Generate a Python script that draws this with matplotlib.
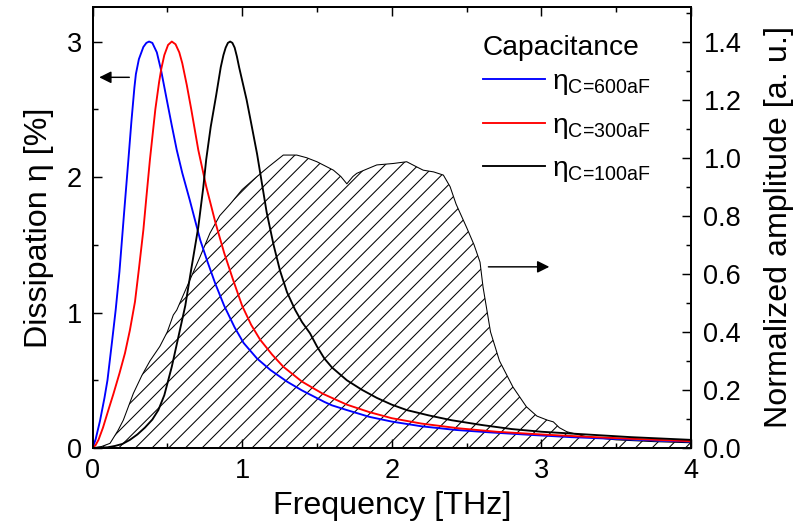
import matplotlib
matplotlib.use("Agg")
import matplotlib.pyplot as plt
from matplotlib.ticker import MultipleLocator, FormatStrFormatter

# dissipation curves (left axis)
freq_600 = [0.00, 0.02, 0.05, 0.08, 0.10, 0.13, 0.155, 0.18, 0.21, 0.24, 0.26, 0.28, 0.29, 0.31, 0.34,
            0.36, 0.378, 0.40, 0.43, 0.458, 0.50, 0.53, 0.563, 0.60, 0.65, 0.72, 0.77, 0.82, 0.88, 0.95,
            1.01, 1.10, 1.19, 1.30, 1.40, 1.55, 1.60, 1.70, 1.85, 2.00, 2.20, 2.43, 2.66, 2.94, 3.20,
            3.50, 3.75, 4.00]
eta_600 = [0.00, 0.06, 0.20, 0.37, 0.50, 0.78, 1.02, 1.30, 1.72, 2.13, 2.41, 2.66, 2.76, 2.87, 2.96,
           2.99, 3.00, 2.99, 2.92, 2.79, 2.55, 2.38, 2.20, 2.03, 1.83, 1.535, 1.37, 1.215, 1.05, 0.89,
           0.775, 0.66, 0.575, 0.49, 0.425, 0.34, 0.315, 0.28, 0.23, 0.195, 0.16, 0.133, 0.115, 0.096, 0.08,
           0.067, 0.056, 0.047]

freq_300 = [0.00, 0.02, 0.04, 0.07, 0.106, 0.14, 0.18, 0.217, 0.25, 0.284, 0.31, 0.34, 0.36, 0.384, 0.42,
            0.445, 0.46, 0.48, 0.505, 0.53, 0.555, 0.58, 0.60, 0.63, 0.66, 0.707, 0.76, 0.82, 0.88, 0.94,
            1.00, 1.06, 1.12, 1.20, 1.275, 1.40, 1.54, 1.70, 1.85, 2.00, 2.20, 2.45, 2.70, 3.00, 3.30,
            3.60, 4.00]
eta_300 = [0.00, 0.02, 0.06, 0.15, 0.28, 0.40, 0.55, 0.70, 0.87, 1.08, 1.32, 1.61, 1.85, 2.13, 2.50,
           2.70, 2.80, 2.90, 2.975, 3.00, 2.98, 2.92, 2.84, 2.68, 2.50, 2.20, 1.93, 1.67, 1.44, 1.24,
           1.05, 0.91, 0.80, 0.69, 0.60, 0.49, 0.40, 0.32, 0.265, 0.22, 0.18, 0.145, 0.12, 0.10, 0.083,
           0.068, 0.05]

freq_100 = [0.00, 0.10, 0.15, 0.20, 0.25, 0.30, 0.35, 0.40, 0.44, 0.48, 0.53, 0.57, 0.62, 0.66, 0.707,
            0.74, 0.76, 0.79, 0.826, 0.857, 0.875, 0.89, 0.905, 0.92, 0.935, 0.95, 0.965, 0.98, 1.03, 1.06,
            1.10, 1.164, 1.21, 1.253, 1.30, 1.354, 1.40, 1.454, 1.50, 1.55, 1.60, 1.70, 1.80, 1.90, 2.00,
            2.10, 2.25, 2.40, 2.60, 2.80, 3.00, 3.30, 3.60, 4.00]
eta_100 = [0.00, 0.005, 0.015, 0.03, 0.06, 0.10, 0.15, 0.21, 0.28, 0.39, 0.60, 0.80, 1.05, 1.32, 1.63,
           1.92, 2.13, 2.37, 2.60, 2.81, 2.90, 2.955, 2.99, 3.00, 2.99, 2.955, 2.89, 2.81, 2.57, 2.40,
           2.17, 1.74, 1.50, 1.31, 1.15, 1.02, 0.93, 0.846, 0.75, 0.66, 0.595, 0.50, 0.43, 0.37, 0.32,
           0.28, 0.24, 0.205, 0.17, 0.14, 0.12, 0.10, 0.08, 0.06]

# normalized pulse amplitude (right axis)
freq_amp = [0.00, 0.06, 0.117, 0.17, 0.206, 0.273, 0.33, 0.384, 0.45, 0.50, 0.54, 0.563, 0.652, 0.72, 0.785,
            0.85, 0.92, 1.00, 1.097, 1.18, 1.275, 1.365, 1.43, 1.50, 1.61, 1.66, 1.70, 1.74, 1.766, 1.83,
            1.90, 2.01, 2.10, 2.16, 2.21, 2.28, 2.345, 2.39, 2.43, 2.50, 2.55, 2.59, 2.61, 2.66, 2.72,
            2.81, 2.90, 2.97, 3.04, 3.08, 3.12, 3.17, 3.30, 3.50, 3.75, 4.00]
amp = [0.00, 0.005, 0.016, 0.06, 0.096, 0.188, 0.25, 0.30, 0.35, 0.40, 0.458, 0.475, 0.58, 0.66, 0.74,
       0.80, 0.84, 0.89, 0.934, 0.97, 1.009, 1.009, 1.00, 0.986, 0.957, 0.935, 0.91, 0.935, 0.946, 0.96,
       0.975, 0.98, 0.986, 0.97, 0.957, 0.951, 0.94, 0.90, 0.84, 0.76, 0.70, 0.64, 0.555, 0.40, 0.30,
       0.21, 0.142, 0.11, 0.096, 0.09, 0.07, 0.056, 0.039, 0.028, 0.022, 0.018]

labels = [r"$\mathrm{\eta}_{\text{C=600aF}}$", r"$\mathrm{\eta}_{\text{C=300aF}}$",
          r"$\mathrm{\eta}_{\text{C=100aF}}$"]

plt.rcParams["font.family"] = ["Liberation Sans", "DejaVu Sans"]
plt.rcParams["mathtext.fontset"] = "custom"
plt.rcParams["mathtext.rm"] = "Liberation Sans"
plt.rcParams["mathtext.it"] = "Liberation Sans:italic"
plt.rcParams["hatch.linewidth"] = 0.5

fig = plt.figure(figsize=(5.32, 530 / 150), dpi=150)
ax = fig.add_axes([92.5 / 798, 82 / 530, 598.5 / 798, 441 / 530])
ax2 = ax.twinx()
ax.set_zorder(ax2.get_zorder() + 1)
ax.patch.set_visible(False)

ax2.fill_between(freq_amp, 0, amp, facecolor="none", edgecolor="black", hatch="///", linewidth=0.5)

ax.plot(freq_600, eta_600, color="blue", lw=0.9, label=labels[0])
ax.plot(freq_300, eta_300, color="red", lw=0.9, label=labels[1])
ax.plot(freq_100, eta_100, color="black", lw=0.9, label=labels[2])

ax.set_xlim(0, 4)
ax.set_ylim(0, 3.255)
ax2.set_ylim(0, 1.519)

ax.xaxis.set_major_locator(MultipleLocator(1))
ax.xaxis.set_minor_locator(MultipleLocator(0.5))
ax.yaxis.set_major_locator(MultipleLocator(1))
ax.yaxis.set_minor_locator(MultipleLocator(0.5))
ax2.yaxis.set_major_locator(MultipleLocator(0.2))
ax2.yaxis.set_minor_locator(MultipleLocator(0.1))
ax2.yaxis.set_major_formatter(FormatStrFormatter("%.1f"))

ax.tick_params(which="both", direction="in", top=True, right=False, width=0.7, labelsize=13)
ax.tick_params(which="major", length=4.3, pad=5)
ax.tick_params(which="minor", length=2.4)
ax2.tick_params(which="both", direction="in", width=0.7, labelsize=13)
ax2.tick_params(which="major", length=4.3, pad=6)
ax2.tick_params(which="minor", length=2.4)
for a in (ax, ax2):
    for s in a.spines.values():
        s.set_linewidth(0.9)

ax.set_xlabel("Frequency [THz]", fontsize=15.5, labelpad=3)
ax.set_ylabel("Dissipation η [%]", fontsize=15.5, labelpad=6)
ax2.set_ylabel("Normalized amplitude [a. u.]", fontsize=15.5, labelpad=11)

arrow = dict(arrowstyle="-|>", color="black", lw=0.7, mutation_scale=12, shrinkA=0, shrinkB=0)
ax.annotate("", xy=(0.045, 2.736), xytext=(0.246, 2.736), arrowprops=arrow)
ax2.annotate("", xy=(3.053, 0.624), xytext=(2.646, 0.624), arrowprops=arrow)

ax.text(0.6525, 0.891, "Capacitance", transform=ax.transAxes, fontsize=13.5, va="baseline", ha="left")
ax.legend(loc="upper left", bbox_to_anchor=(0.6525, 0.859), frameon=False,
          fontsize=13.5, handlelength=2.2, labelspacing=0.55,
          handletextpad=0.25, borderpad=0, borderaxespad=0)

fig.savefig("out.png", dpi=150)
